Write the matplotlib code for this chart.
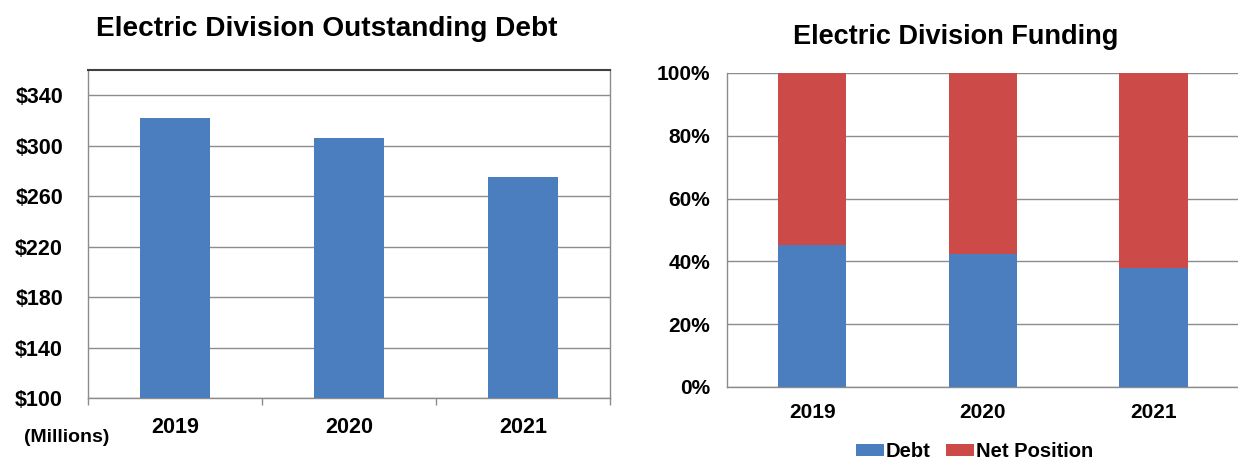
import matplotlib
matplotlib.use("Agg")
import matplotlib.pyplot as plt
from matplotlib.ticker import FuncFormatter
from matplotlib.patches import Patch

years = ["2019", "2020", "2021"]
outstanding_debt = [322, 306, 275]          # $ millions
debt_share = [45.2, 42.4, 37.9]             # % of funding
net_position_share = [100 - d for d in debt_share]

debt_ticks = [100, 140, 180, 220, 260, 300, 340]
pct_ticks = [0, 20, 40, 60, 80, 100]

BLUE = "#4A7EBF"
RED = "#CC4A48"
GRID = "#8C8C8C"

plt.rcParams["font.family"] = ["Liberation Sans", "DejaVu Sans"]
plt.rcParams["font.weight"] = "bold"

fig = plt.figure(figsize=(12.38, 4.59), dpi=100)

# ---- Outstanding debt ----
ax1 = fig.add_axes([0.0711, 0.1329, 0.4216, 0.7146])
x = range(len(years))
ax1.bar(x, outstanding_debt, width=0.4, color=BLUE, zorder=3)
ax1.set_xlim(-0.5, 2.5)
ax1.set_ylim(100, 360)
ax1.set_yticks(debt_ticks)
ax1.yaxis.set_major_formatter(FuncFormatter(lambda v, p: f"${v:.0f}"))
ax1.yaxis.grid(True, color=GRID, linewidth=1.0, zorder=0)
ax1.set_xticks(list(x))
ax1.set_xticklabels(years)
ax1.set_xticks([-0.5, 0.5, 1.5, 2.5], minor=True)
ax1.tick_params(axis="x", which="major", length=0, pad=14, labelsize=15.5)
ax1.tick_params(axis="x", which="minor", length=5, color=GRID, width=1)
ax1.tick_params(axis="y", length=0, pad=18, labelsize=15.5)
for lbl in ax1.get_xticklabels() + ax1.get_yticklabels():
    lbl.set_fontweight("bold")
for side in ["left", "bottom", "right"]:
    ax1.spines[side].set_color(GRID)
    ax1.spines[side].set_linewidth(1.0)
ax1.spines["top"].set_color("#404040")
ax1.spines["top"].set_linewidth(1.5)
fig.text(0.264, 0.937, "Electric Division Outstanding Debt", ha="center", va="center",
         fontsize=20.2, fontweight="bold")
fig.text(0.054, 0.046, "(Millions)", ha="center", va="center", fontsize=14,
         fontweight="bold")

# ---- Funding mix ----
ax2 = fig.add_axes([0.5872, 0.1569, 0.4135, 0.6841])
ax2.bar(x, debt_share, width=0.4, color=BLUE, zorder=3, label="Debt")
ax2.bar(x, net_position_share, width=0.4, bottom=debt_share, color=RED, zorder=3,
        label="Net Position")
ax2.set_xlim(-0.5, 2.5)
ax2.set_ylim(0, 100)
ax2.set_yticks(pct_ticks)
ax2.yaxis.set_major_formatter(FuncFormatter(lambda v, p: f"{v:.0f}%"))
ax2.yaxis.grid(True, color=GRID, linewidth=1.0, zorder=0)
ax2.set_xticks(list(x))
ax2.set_xticklabels(years)
ax2.tick_params(axis="x", length=0, pad=11.5, labelsize=15)
ax2.tick_params(axis="y", length=0, pad=12, labelsize=15)
for lbl in ax2.get_xticklabels() + ax2.get_yticklabels():
    lbl.set_fontweight("bold")
for side in ["left", "bottom"]:
    ax2.spines[side].set_color(GRID)
    ax2.spines[side].set_linewidth(1.0)
ax2.spines["top"].set_visible(False)
ax2.spines["right"].set_visible(False)
fig.text(0.772, 0.919, "Electric Division Funding", ha="center", va="center",
         fontsize=19.5, fontweight="bold")

handles = [Patch(facecolor=BLUE, label="Debt"), Patch(facecolor=RED, label="Net Position")]
fig.legend(handles=handles, loc="center", bbox_to_anchor=(0.787, 0.017), ncol=2,
           frameon=False, handlelength=1.4, handleheight=0.55,
           handletextpad=0.1, columnspacing=0.75, borderpad=0.1,
           prop={"weight": "bold", "size": 14.5})

fig.savefig("out.png", dpi=100)
